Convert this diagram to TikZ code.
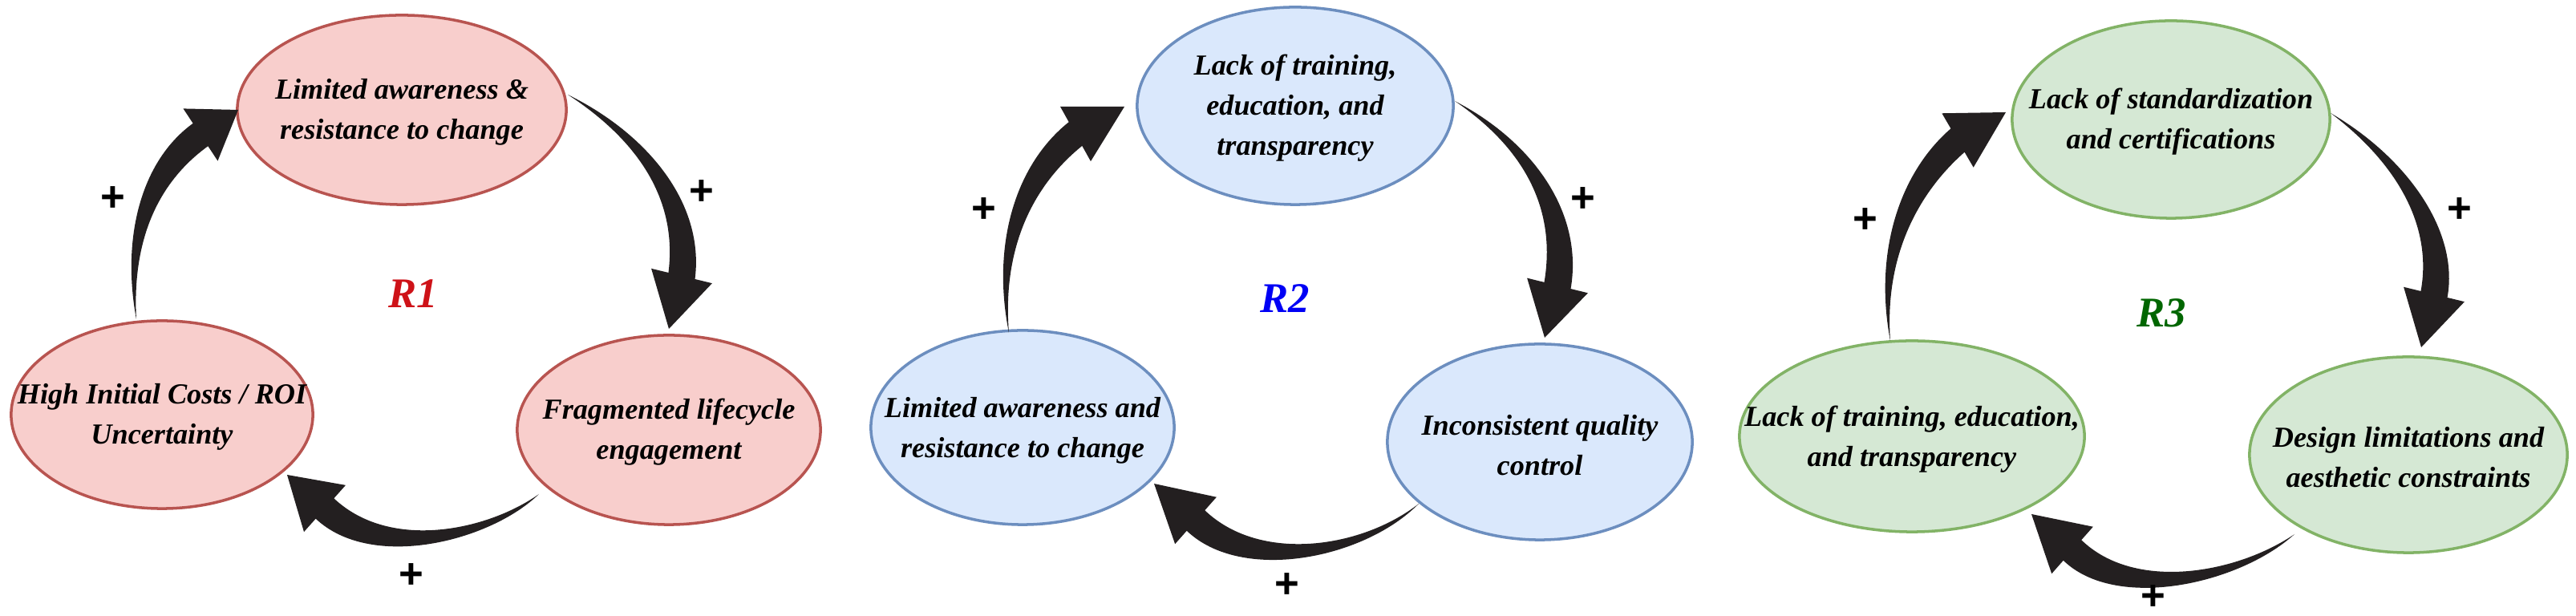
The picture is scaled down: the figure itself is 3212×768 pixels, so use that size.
\documentclass[tikz,border=0pt]{standalone}
\usepackage{fontspec}
\setmainfont{Liberation Serif}
\setsansfont{Liberation Sans}
\usetikzlibrary{calc,shapes.geometric}
\definecolor{redfill}{HTML}{F8CECC}\definecolor{redline}{HTML}{B85450}
\definecolor{bluefill}{HTML}{DAE8FC}\definecolor{blueline}{HTML}{6C8EBF}
\definecolor{greenfill}{HTML}{D5E8D4}\definecolor{greenline}{HTML}{82B366}
\definecolor{arrowc}{HTML}{231F20}
\definecolor{lblred}{RGB}{206,18,24}
\definecolor{lblblue}{RGB}{0,0,245}
\definecolor{lblgreen}{RGB}{0,102,0}
\tikzset{
  factor/.style={ellipse, inner sep=0pt, outer sep=0pt, line width=1pt},
  redf/.style={factor, fill=redfill, draw=redline},
  bluef/.style={factor, fill=bluefill, draw=blueline},
  greenf/.style={factor, fill=greenfill, draw=greenline},
  ftext/.style={inner sep=0pt, align=center, font=\fontsize{10.3}{14.2}\selectfont\bfseries\itshape},
  looplabel/.style={font=\fontsize{15}{15}\selectfont\bfseries\itshape, inner sep=0pt},
  sign/.style={font=\sffamily\bfseries\fontsize{15}{15}\selectfont, inner sep=0pt},
  fatarrow/.style={fill=arrowc},
}
% #1 start coordinate name, #2 control 1, #3 control 2, #4 head base, #5 tip coordinate name
\newcommand\fatarrow[5]{%
  \coordinate (fa-c1) at (#2);
  \coordinate (fa-c2) at (#3);
  \coordinate (fa-b) at (#4);
  \fill[fatarrow] (#1)
    .. controls ($(fa-c1)!0.07cm!90:(fa-c2)$) and ($(fa-c2)!0.17cm!90:(fa-b)$) .. ($(fa-b)!0.17cm!90:(#5)$)
    -- ($(fa-b)!0.39cm!90:(#5)$) -- (#5) -- ($(fa-b)!0.39cm!-90:(#5)$)
    -- ($(fa-b)!0.17cm!-90:(#5)$)
    .. controls ($(fa-c2)!0.17cm!-90:(fa-b)$) and ($(fa-c1)!0.07cm!-90:(fa-c2)$) .. (#1) -- cycle;
}
\begin{document}
\begin{tikzpicture}[x=0.01cm, y=-0.01cm]
\useasboundingbox[fill=white] (0,0) rectangle (3212,768);

% ---------------- R1 ----------------
\node[redf, minimum width=4.1cm, minimum height=2.36cm] (r1t) at (501,137) {};
\node[redf, minimum width=3.76cm, minimum height=2.34cm] (r1l) at (202,517) {};
\node[redf, minimum width=3.78cm, minimum height=2.36cm] (r1r) at (834,536) {};
\node[ftext] (r1tt) at (501,140) {Limited awareness \&\\resistance to change};
\node[ftext] (r1lt) at (202,520) {High Initial Costs / ROI\\Uncertainty};
\node[ftext] (r1rt) at (834,539) {Fragmented lifecycle\\engagement};
\node[looplabel, text=lblred] (r1) at (515,366) {R1};
\coordinate (r1a1s) at ($(r1t)+(207,-19)$);
\coordinate (r1a1t) at ($(r1r)+(0,-126)$);
\coordinate (r1a2s) at ($(r1r)+(-162,80)$);
\coordinate (r1a2t) at ($(r1l)+(156,75)$);
\coordinate (r1a3s) at ($(r1l)+(-32,-119)$);
\coordinate (r1a3t) at ($(r1t)+(-204,0)$);
\fatarrow{r1a1s}{800,170}{862,250}{850,344}{r1a1t}
\fatarrow{r1a2s}{610,668}{475,700}{405,634}{r1a2t}
\fatarrow{r1a3s}{158,300}{185,215}{250,168}{r1a3t}
\node[sign] (r1p1) at (875,240) {+};
\node[sign] (r1p2) at (513,718) {+};
\node[sign] (r1p3) at (141,248) {+};

% ---------------- R2 ----------------
\node[bluef, minimum width=3.94cm, minimum height=2.46cm] (r2t) at (1615,132) {};
\node[bluef, minimum width=3.78cm, minimum height=2.42cm] (r2l) at (1275,533) {};
\node[bluef, minimum width=3.8cm, minimum height=2.44cm] (r2r) at (1920,551) {};
\node[ftext] (r2tt) at (1615,135) {Lack of training,\\education, and\\transparency};
\node[ftext] (r2lt) at (1275,537) {Limited awareness and\\resistance to change};
\node[ftext] (r2rt) at (1920,555) {Inconsistent quality\\control};
\node[looplabel, text=lblblue] (r2) at (1602,372) {R2};
\coordinate (r2a1s) at ($(r2t)+(199,-6)$);
\coordinate (r2a1t) at ($(r2r)+(6,-130)$);
\coordinate (r2a2s) at ($(r2r)+(-151,77)$);
\coordinate (r2a2t) at ($(r2l)+(164,70)$);
\coordinate (r2a3s) at ($(r2l)+(-17,-118)$);
\coordinate (r2a3t) at ($(r2t)+(-213,1)$);
\fatarrow{r2a1s}{1905,180}{1958,262}{1942,356}{r2a1t}
\fatarrow{r2a2s}{1700,690}{1560,715}{1491,649}{r2a2t}
\fatarrow{r2a3s}{1243,310}{1275,220}{1341,167}{r2a3t}
\node[sign] (r2p1) at (1974,249) {+};
\node[sign] (r2p2) at (1605,730) {+};
\node[sign] (r2p3) at (1227,262) {+};

% ---------------- R3 ----------------
\node[greenf, minimum width=3.96cm, minimum height=2.46cm] (r3t) at (2707,149) {};
\node[greenf, minimum width=4.3cm, minimum height=2.38cm] (r3l) at (2384,544) {};
\node[greenf, minimum width=3.96cm, minimum height=2.44cm] (r3r) at (3003,567) {};
\node[ftext] (r3tt) at (2707,152) {Lack of standardization\\and certifications};
\node[ftext] (r3lt) at (2384,548) {Lack of training, education,\\and transparency};
\node[ftext] (r3rt) at (3003,570) {Design limitations and\\aesthetic constraints};
\node[looplabel, text=lblgreen] (r3) at (2695,390) {R3};
\coordinate (r3a1s) at ($(r3t)+(199,-8)$);
\coordinate (r3a1t) at ($(r3r)+(16,-134)$);
\coordinate (r3a2s) at ($(r3r)+(-142,99)$);
\coordinate (r3a2t) at ($(r3l)+(149,97)$);
\coordinate (r3a3s) at ($(r3l)+(-27,-119)$);
\coordinate (r3a3t) at ($(r3t)+(-206,-9)$);
\fatarrow{r3a1s}{2995,200}{3050,285}{3035,367}{r3a1t}
\fatarrow{r3a2s}{2790,722}{2650,750}{2584,686}{r3a2t}
\fatarrow{r3a3s}{2343,320}{2378,230}{2441,175}{r3a3t}
\node[sign] (r3p1) at (3067,262) {+};
\node[sign] (r3p2) at (2685,745) {+};
\node[sign] (r3p3) at (2326,275) {+};
\end{tikzpicture}
\end{document}
